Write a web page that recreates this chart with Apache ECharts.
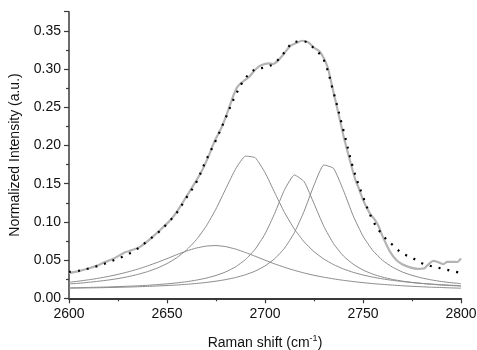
<!DOCTYPE html>
<html>
<head>
<meta charset="utf-8">
<script src="https://cdn.jsdelivr.net/npm/echarts@6/dist/echarts.min.js"></script>
<style>
html,body{margin:0;padding:0;background:#fff;}
#chart{width:477px;height:350px;}
</style>
</head>
<body>
<div id="chart"></div>
<script>
// Raman shift grid (cm-1) for the fitted curves
const shiftGrid = [2600,2605,2610,2615,2620,2625,2630,2635,2640,2645,2650,2655,2660,2665,2670,2675,2680,2685,2690,2695,2700,2705,2710,2715,2720,2725,2730,2735,2740,2745,2750,2755,2760,2765,2770,2775,2780,2785,2790,2795,2800];
// Fitted component peaks
const peak1 = [0.0210,0.0225,0.0242,0.0262,0.0286,0.0313,0.0345,0.0381,0.0423,0.0469,0.0519,0.0571,0.0619,0.0658,0.0683,0.0690,0.0676,0.0644,0.0600,0.0550,0.0499,0.0450,0.0405,0.0366,0.0331,0.0301,0.0276,0.0254,0.0235,0.0219,0.0205,0.0192,0.0182,0.0173,0.0164,0.0157,0.0151,0.0145,0.0141,0.0136,0.0132];
const peak2 = [0.0188,0.0197,0.0209,0.0223,0.0239,0.0258,0.0282,0.0312,0.0348,0.0395,0.0454,0.0531,0.0633,0.0767,0.0944,0.1169,0.1434,0.1693,0.1860,0.1840,0.1646,0.1380,0.1120,0.0905,0.0737,0.0610,0.0514,0.0441,0.0384,0.0340,0.0305,0.0277,0.0254,0.0235,0.0220,0.0206,0.0195,0.0186,0.0178,0.0171,0.0164];
const peak3 = [0.0137,0.0139,0.0142,0.0145,0.0148,0.0153,0.0158,0.0163,0.0170,0.0179,0.0189,0.0202,0.0217,0.0238,0.0264,0.0299,0.0346,0.0412,0.0506,0.0643,0.0841,0.1114,0.1423,0.1614,0.1526,0.1239,0.0942,0.0713,0.0554,0.0446,0.0370,0.0316,0.0277,0.0247,0.0225,0.0208,0.0194,0.0183,0.0173,0.0166,0.0160];
const peak4 = [0.0132,0.0134,0.0136,0.0138,0.0141,0.0144,0.0147,0.0151,0.0156,0.0161,0.0167,0.0174,0.0183,0.0194,0.0207,0.0224,0.0245,0.0272,0.0308,0.0356,0.0424,0.0519,0.0657,0.0859,0.1142,0.1480,0.1745,0.1700,0.1413,0.1079,0.0813,0.0625,0.0497,0.0408,0.0345,0.0300,0.0266,0.0240,0.0220,0.0204,0.0192];
// Cumulative fit
const fitSum = [0.0345,0.0360,0.0390,0.0425,0.0470,0.0520,0.0575,0.0650,0.0750,0.0850,0.0975,0.1120,0.1320,0.1520,0.1810,0.2070,0.2365,0.2660,0.2880,0.2995,0.3020,0.3080,0.3220,0.3355,0.3360,0.3270,0.3120,0.2690,0.2200,0.1700,0.1330,0.1020,0.0826,0.0700,0.0590,0.0530,0.0460,0.0420,0.0390,0.0360,0.0330];
// Measured spectrum
const specShift = [2600,2605,2610,2614,2618,2622,2626,2629,2632,2636,2640,2644,2648,2652,2656,2660,2664,2668,2671,2674,2678,2681,2684,2686,2689,2692,2695,2698,2702,2704,2707,2710,2713,2716,2719,2722,2725,2728,2730,2732,2734,2736,2738,2740,2742,2744,2746,2748,2750,2752,2754,2756,2758,2760,2762,2764,2767,2770,2774,2778,2781,2783,2786,2788,2791,2793,2796,2798,2800];
const specIntensity = [0.0330,0.0356,0.0390,0.0425,0.0470,0.0510,0.0565,0.0605,0.0630,0.0670,0.0745,0.0835,0.0930,0.1030,0.1170,0.1335,0.1500,0.1680,0.1847,0.2040,0.2245,0.2445,0.2660,0.2770,0.2840,0.2900,0.2990,0.3050,0.3075,0.3065,0.3120,0.3210,0.3305,0.3340,0.3370,0.3350,0.3280,0.3225,0.3140,0.3020,0.2800,0.2580,0.2360,0.2130,0.1930,0.1740,0.1560,0.1430,0.1290,0.1180,0.1090,0.1030,0.0940,0.0810,0.0700,0.0600,0.0500,0.0445,0.0405,0.0385,0.0390,0.0435,0.0490,0.0477,0.0447,0.0477,0.0477,0.0475,0.0522];

const pairs = (xs, ys) => xs.map((x, i) => [x, ys[i]]);
const FONT = '"Liberation Sans", Arial, sans-serif';
const compStyle = {color: '#8c8c8c', width: 1};

const chart = echarts.init(document.getElementById('chart'), null, {renderer: 'canvas'});
const comps = [peak1, peak2, peak3, peak4].map((p, i) => ({
  type: 'line', name: 'peak' + (i + 1), data: pairs(shiftGrid, p),
  showSymbol: false, smooth: 0.15, lineStyle: compStyle, silent: true, z: 2
}));
chart.setOption({
  animation: false,
  backgroundColor: '#ffffff',
  grid: {left: 69, right: 16, top: 11.7, bottom: 51.7, containLabel: false, outerBoundsMode: 'none'},
  xAxis: {
    type: 'value', min: 2600, max: 2800, interval: 50,
    name: 'Raman shift (cm{sup|-1})', nameLocation: 'middle', nameGap: 36,
    nameTextStyle: {fontFamily: FONT, fontSize: 14, color: '#111',
      rich: {sup: {fontFamily: FONT, fontSize: 9, color: '#111', padding: [0, 0, 8, 0]}}},
    axisLine: {lineStyle: {color: '#3a3a3a', width: 2}},
    axisTick: {show: true, inside: false, length: 5, lineStyle: {color: '#3a3a3a', width: 1.2}},
    minorTick: {show: true, splitNumber: 2, length: 3, lineStyle: {color: '#3a3a3a', width: 1.2}},
    axisLabel: {fontFamily: FONT, fontSize: 14, color: '#111', margin: 9,
      formatter: v => String(Math.round(v))},
    splitLine: {show: false}
  },
  yAxis: {
    type: 'value', min: 0, max: 0.375, interval: 0.05,
    name: 'Normalized Intensity (a.u.)', nameLocation: 'middle', nameGap: 47,
    nameTextStyle: {fontFamily: FONT, fontSize: 14, color: '#111'},
    axisLine: {show: true, lineStyle: {color: '#3a3a3a', width: 1.5}},
    axisTick: {show: true, inside: false, length: 5, lineStyle: {color: '#3a3a3a', width: 1.2}},
    minorTick: {show: true, splitNumber: 2, length: 3, lineStyle: {color: '#3a3a3a', width: 1.2}},
    axisLabel: {fontFamily: FONT, fontSize: 14, color: '#111', margin: 8, showMaxLabel: false,
      formatter: v => v.toFixed(2)},
    splitLine: {show: false}
  },
  series: comps.concat([
    {type: 'line', name: 'spectrum', data: pairs(specShift, specIntensity), showSymbol: false,
     smooth: 0.3, lineStyle: {color: '#b4b4b4', width: 2.2}, silent: true, z: 3},
    {type: 'line', name: 'fit', data: pairs(shiftGrid, fitSum), showSymbol: false,
     smooth: 0.35, lineStyle: {color: '#000', width: 2.2, type: [2, 7], cap: 'butt'}, silent: true, z: 4}
  ])
});
</script>
</body>
</html>
